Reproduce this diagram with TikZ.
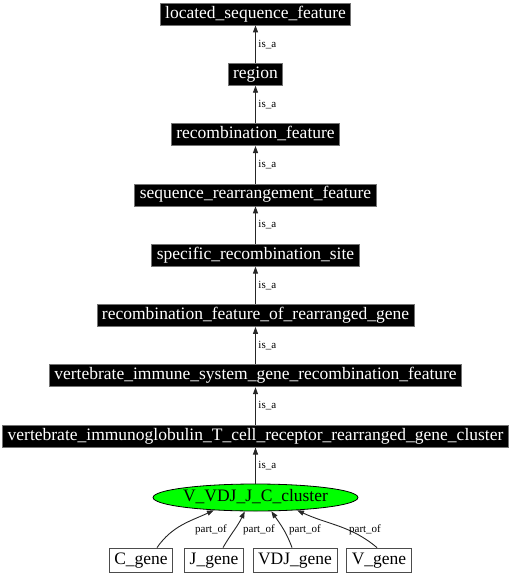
\documentclass[tikz,border=0pt]{standalone}
\usepackage{fontspec}
\setmainfont{Liberation Serif}
\usetikzlibrary{arrows.meta,shapes.geometric}
\begin{document}
\begin{tikzpicture}[x=1pt,y=-1pt,
  blk/.style={rectangle,fill=black,draw=black!55,line width=0.8pt,text=white,
    font=\fontsize{17.5}{20}\selectfont,inner xsep=5pt,inner ysep=0pt,
    minimum height=22pt,text height=12pt,text depth=4pt},
  gbox/.style={rectangle,fill=white,draw=black!70,line width=0.8pt,text=black,
    font=\fontsize{17.5}{20}\selectfont,inner xsep=5pt,inner ysep=0pt,
    minimum height=24pt,text height=12pt,text depth=4pt},
  ell/.style={ellipse,fill={rgb,255:red,0;green,255;blue,0},draw=black,line width=0.8pt,
    font=\fontsize{17.5}{20}\selectfont,minimum width=203pt,minimum height=27pt,inner sep=0pt,
    text height=12pt,text depth=4pt},
  edge/.style={draw=black!85,line width=0.9pt,-{Triangle[length=7pt,width=5pt]}},
  lbl/.style={font=\fontsize{11}{12}\selectfont,inner sep=0pt,anchor=west},
  plbl/.style={font=\fontsize{11}{12}\selectfont,inner sep=0pt}]
\useasboundingbox (0,0) rectangle (510,576);
\node[blk] (n1) at (255.5,14) {located\_sequence\_feature};
\node[blk] (n2) at (255.5,74.3) {region};
\node[blk] (n3) at (255.5,134.6) {recombination\_feature};
\node[blk] (n4) at (255.5,194.9) {sequence\_rearrangement\_feature};
\node[blk] (n5) at (255.5,255.2) {specific\_recombination\_site};
\node[blk] (n6) at (255.5,315.5) {recombination\_feature\_of\_rearranged\_gene};
\node[blk] (n7) at (255.5,375.8) {vertebrate\_immune\_system\_gene\_recombination\_feature};
\node[blk] (n8) at (255.5,436.1) {vertebrate\_immunoglobulin\_T\_cell\_receptor\_rearranged\_gene\_cluster};
\node[ell] (e) at (255.5,497.5) {V\_VDJ\_J\_C\_cluster};
\node[gbox] (c) at (141,560) {C\_gene};
\node[gbox] (j) at (214,560) {J\_gene};
\node[gbox] (vdj) at (295,560) {VDJ\_gene};
\node[gbox] (v) at (379,560) {V\_gene};

\draw[edge] (n2) -- node[lbl,xshift=2.5pt] {is\_a} (n1);
\draw[edge] (n3) -- node[lbl,xshift=2.5pt] {is\_a} (n2);
\draw[edge] (n4) -- node[lbl,xshift=2.5pt] {is\_a} (n3);
\draw[edge] (n5) -- node[lbl,xshift=2.5pt] {is\_a} (n4);
\draw[edge] (n6) -- node[lbl,xshift=2.5pt] {is\_a} (n5);
\draw[edge] (n7) -- node[lbl,xshift=2.5pt] {is\_a} (n6);
\draw[edge] (n8) -- node[lbl,xshift=2.5pt] {is\_a} (n7);
\draw[edge] (e) -- node[lbl,xshift=2.5pt] {is\_a} (n8);

\draw[edge] ([xshift=16pt]c.north) to[out=55,in=205] (e.197);
\draw[edge] ([xshift=9pt]j.north) to[out=60,in=245] (e.232);
\draw[edge] ([xshift=-3pt]vdj.north) to[out=110,in=-55] (e.319);
\draw[edge] ([xshift=-2pt]v.north) to[out=140,in=-25] (e.343);

\node[plbl] (l1) at (211,530) {part\_of};
\node[plbl] (l2) at (259,530) {part\_of};
\node[plbl] (l3) at (305,530) {part\_of};
\node[plbl] (l4) at (365,530) {part\_of};
\end{tikzpicture}
\end{document}
